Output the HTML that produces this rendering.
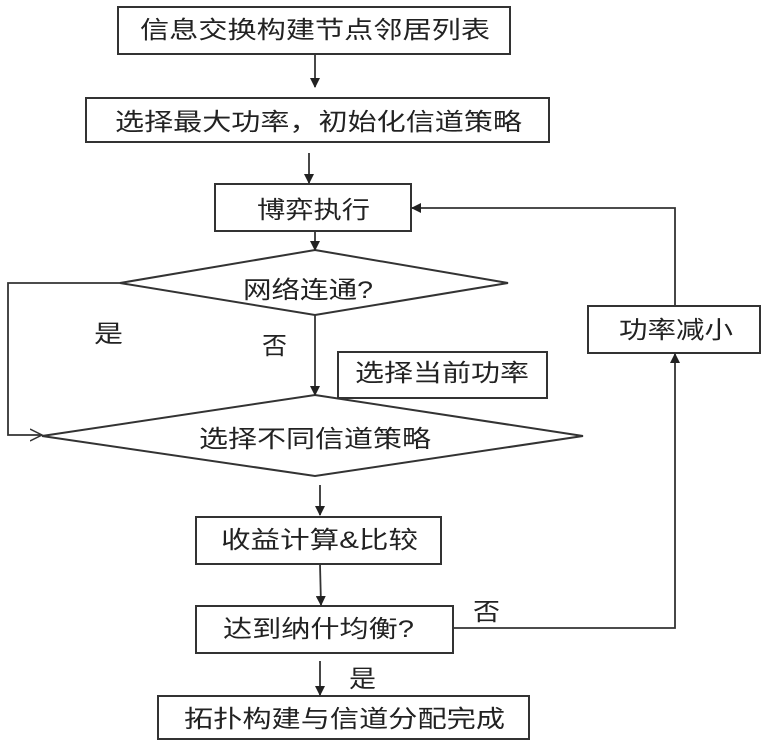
<!DOCTYPE html>
<html><head><meta charset="utf-8"><style>
html,body{margin:0;padding:0;background:#fff;}
svg text{font-family:"Liberation Sans","Noto Sans CJK SC",sans-serif;font-size:24px;fill:#222;}
</style></head><body>
<svg width="765" height="747" viewBox="0 0 765 747" xmlns="http://www.w3.org/2000/svg">
<defs>
<marker id="a" markerWidth="10" markerHeight="10" refX="9" refY="5" orient="auto" markerUnits="userSpaceOnUse">
<path d="M0,0 L10,5 L0,10 Z" fill="#222"/></marker>
<marker id="o" markerWidth="14" markerHeight="14" refX="12" refY="7" orient="auto" markerUnits="userSpaceOnUse">
<path d="M0,1 L12,7 L0,13" fill="none" stroke="#333" stroke-width="1.5"/></marker>
</defs>
<g fill="none" stroke="#333" stroke-width="2">
<rect x="118" y="7" width="392" height="47"/>
<rect x="86" y="98" width="463" height="44"/>
<rect x="215" y="184" width="196" height="47"/>
<polygon points="315,250 508,283 315,315 120,283"/>
<rect x="338" y="352" width="209" height="46"/>
<polygon points="315,395 583,436 315,476 42,436"/>
<rect x="196" y="517" width="245" height="47"/>
<rect x="196" y="606" width="257" height="47"/>
<rect x="588" y="306" width="172" height="47"/>
<rect x="158" y="696" width="371" height="43"/>
</g>
<g fill="none" stroke="#333" stroke-width="1.8">
<line x1="315" y1="55" x2="315" y2="87" marker-end="url(#a)"/>
<line x1="309" y1="153" x2="309" y2="183" marker-end="url(#a)"/>
<line x1="315" y1="231" x2="315" y2="250" marker-end="url(#a)"/>
<polyline points="120,283 8,283 8,435 42,435" marker-end="url(#o)"/>
<line x1="315" y1="315" x2="315" y2="395" marker-end="url(#a)"/>
<line x1="320" y1="485" x2="320" y2="515" marker-end="url(#a)"/>
<line x1="320" y1="564" x2="321" y2="605" marker-end="url(#a)"/>
<polyline points="453,628 675,628 675,354" marker-end="url(#a)"/>
<polyline points="675,306 675,208 412,208" marker-end="url(#a)"/>
<line x1="320" y1="661" x2="320" y2="695" marker-end="url(#a)"/>
</g>
<g>
<text x="140" y="38" textLength="350" lengthAdjust="spacingAndGlyphs">信息交换构建节点邻居列表</text>
<text x="115" y="130" textLength="407" lengthAdjust="spacingAndGlyphs">选择最大功率，初始化信道策略</text>
<text x="257" y="218" textLength="113" lengthAdjust="spacingAndGlyphs">博弈执行</text>
<text x="243" y="298" textLength="130" lengthAdjust="spacingAndGlyphs">网络连通?</text>
<text x="94" y="342" textLength="29" lengthAdjust="spacingAndGlyphs">是</text>
<text x="262" y="354" textLength="25" lengthAdjust="spacingAndGlyphs">否</text>
<text x="355" y="381" textLength="174" lengthAdjust="spacingAndGlyphs">选择当前功率</text>
<text x="199" y="447" textLength="232" lengthAdjust="spacingAndGlyphs">选择不同信道策略</text>
<text x="221" y="548" textLength="197" lengthAdjust="spacingAndGlyphs">收益计算&amp;比较</text>
<text x="223" y="637" textLength="191" lengthAdjust="spacingAndGlyphs">达到纳什均衡?</text>
<text x="473" y="620" textLength="27" lengthAdjust="spacingAndGlyphs">否</text>
<text x="619" y="338" textLength="114" lengthAdjust="spacingAndGlyphs">功率减小</text>
<text x="349" y="687" textLength="27" lengthAdjust="spacingAndGlyphs">是</text>
<text x="184" y="727" textLength="321" lengthAdjust="spacingAndGlyphs">拓扑构建与信道分配完成</text>
</g>
</svg>
</body></html>
